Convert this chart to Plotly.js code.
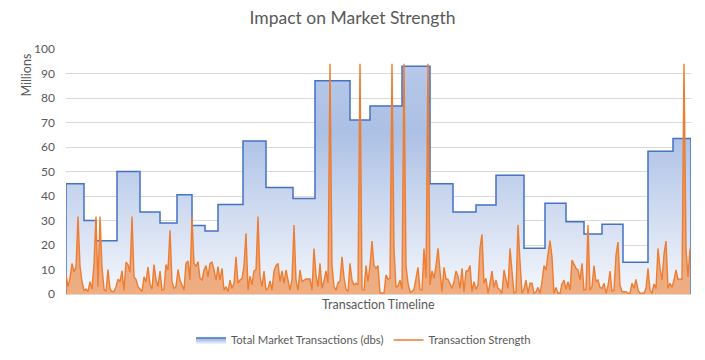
<!DOCTYPE html>
<html>
<head>
<meta charset="utf-8">
<script src="https://cdn.plot.ly/plotly-3.0.1.min.js"></script>
<style>
  html, body { margin: 0; padding: 0; background: #fff; }
  #chart { width: 705px; height: 360px; outline: 1px solid #d9d9d9; outline-offset: -1px; }
</style>
</head>
<body>
<div id="chart"></div>
<script>
// Step boundaries on the transaction timeline (segment starts, then final end)
const segmentStarts = [0, 18, 30, 51, 74, 94, 111, 126, 139, 152, 177, 200, 227, 249, 284, 304, 336, 364, 387, 410, 430, 458, 479, 500, 518, 536, 557, 582, 607];
const timelineEnd = 625;
// Total Market Transactions (millions) per segment
const totalTransactions = [45, 30, 21.7, 50, 33.5, 29, 40.5, 28, 25.7, 36.5, 62.5, 43.5, 39, 87, 71, 76.7, 93, 45, 33.5, 36.3, 48.5, 18.7, 37, 29.5, 24.5, 28.5, 13, 58.3, 63.5];
// Transaction Strength samples (every 2 timeline units)
const strengthStep = 2;
const transactionStrength = [
  8, 3, 6.5, 12.5, 9, 11, 31.6, 11.5, 5, 1.5, 2, 1, 5, 2, 12.5, 31.6, 3, 31.6, 11, 2,
  1, 10, 2, 1, 1, 3, 6, 5, 9.5, 1.5, 13, 12, 9, 31.6, 7, 6, 3, 2, 1, 7,
  5, 11, 4, 2, 12, 6, 3, 9.4, 1.6, 2, 12, 9.8, 26, 5, 2.3, 3, 10, 5.7, 3.7, 1.6,
  12.5, 13.5, 5.7, 31.3, 12.5, 11.2, 13.2, 6.4, 5.7, 9.8, 11.6, 7, 12.5, 13, 9.8, 5.7, 11.2, 5.7, 10.5, 1.6,
  3, 0.9, 5.7, 2.3, 4.4, 15.2, 4.4, 5.7, 6.3, 11.6, 24.8, 1.6, 7.3, 3.7, 9.4, 9.8, 31.6, 7, 3, 9.4,
  1.6, 2.3, 5.3, 1.6, 9.4, 11.6, 12.5, 5, 9.4, 4.4, 9.8, 5, 1.6, 6.1, 28.2, 5.7, 1.6, 9.8, 5, 5.7,
  6.1, 6.1, 6.1, 1.6, 18.6, 7.8, 3, 12.5, 2.3, 5.3, 9.4, 4.4, 94, 11.6, 3, 1.6, 4.6, 5.3, 15.2, 6.8,
  2, 1, 12.5, 5.7, 3.7, 4.4, 3.7, 94, 1.9, 1.6, 11.6, 5, 11.6, 21.6, 11.6, 10.5, 11.6, 0.5, 0.5, 0.3,
  7.8, 6, 6.4, 94, 18.6, 2.7, 3.3, 5.7, 1.9, 94, 11.6, 4.4, 0.9, 0.9, 1.9, 5.7, 10.9, 1.9, 1.6, 18.6,
  6.4, 94, 3.7, 9.4, 6.4, 11.6, 18.6, 9.4, 0.9, 10.9, 6.1, 6, 3.7, 2.3, 5, 9.4, 7.3, 2.3, 10.5, 0.9,
  9.4, 9.4, 11.6, 1, 5, 1.9, 3.7, 18.6, 24.3, 4.4, 6.4, 0.3, 4.4, 9.4, 2.7, 5.7, 2.3, 1.6, 0.3, 9.8,
  6, 2.3, 18.6, 9.4, 0.3, 1, 28.2, 13.5, 0.3, 2, 5.7, 0.3, 4.4, 4.4, 0.3, 0.9, 2.7, 0.3, 5, 11.6,
  9.8, 16.3, 21.8, 15.2, 0.3, 2.7, 0.3, 0.3, 4.1, 5.7, 1.9, 5, 1.6, 13.9, 12.5, 10.5, 9.8, 5.7, 12.5, 1.6,
  1.9, 28.2, 1.6, 3, 11.6, 5, 5.7, 2.7, 2.3, 4.4, 0.3, 3.3, 9.4, 1, 1.6, 16, 21.2, 3.7, 1, 0.9,
  0.9, 0.3, 0.3, 4.4, 2.3, 6, 1.6, 0.3, 0.3, 0.3, 2.3, 10.5, 1.6, 0.3, 4.1, 2.3, 18.6, 10.5, 5.7, 16.3,
  21.6, 2.3, 4.4, 2.7, 5.7, 9.8, 6.1, 6.1, 6, 94, 18.6, 7, 18.6
];
const seriesNames = ['Total Market Transactions (dbs)', 'Transaction Strength'];
const chartTitle = 'Impact on Market Strength';
const xTitle = 'Transaction Timeline';
const yUnitLabel = 'Millions';

// Build step-area arrays
const stepX = [segmentStarts[0]].concat(segmentStarts, [timelineEnd, timelineEnd]);
const stepY = [0].concat(totalTransactions, [totalTransactions[totalTransactions.length - 1], 0]);
const strengthX = transactionStrength.map((_, i) => i * strengthStep);

const FONT = 'Lato, "Open Sans", "DejaVu Sans", sans-serif';
const TXT = '#595959';

const traces = [
  {
    x: stepX, y: stepY, type: 'scatter', mode: 'lines',
    name: seriesNames[0],
    line: { shape: 'hv', color: '#4472c4', width: 1.5 },
    fill: 'tozeroy',
    fillgradient: {
      type: 'vertical', start: 0, stop: 95,
      colorscale: [[0, 'rgb(244,247,252)'], [0.7, 'rgb(172,192,229)'], [1, 'rgb(184,201,233)']]
    },
    hoverinfo: 'skip'
  },
  {
    x: strengthX, y: transactionStrength, type: 'scatter', mode: 'lines',
    showlegend: false, fill: 'tozeroy', fillcolor: 'rgba(237,125,49,0.6)',
    line: { color: 'rgba(237,125,49,0)', width: 0 }, hoverinfo: 'skip'
  },
  {
    x: strengthX, y: transactionStrength, type: 'scatter', mode: 'lines',
    name: seriesNames[1],
    line: { color: '#ed7d31', width: 1.4 }
  }
];

const layout = {
  width: 705, height: 360,
  margin: { l: 66, r: 14, t: 49, b: 66, autoexpand: false },
  paper_bgcolor: '#ffffff', plot_bgcolor: '#ffffff',
  font: { family: FONT, color: TXT, size: 12 },
  title: { text: chartTitle, font: { family: FONT, size: 17.5, color: TXT }, x: 0.5, xanchor: 'center', y: 0.95, yanchor: 'middle', automargin: false },
  xaxis: {
    range: [0, timelineEnd], showticklabels: false, showgrid: false, zeroline: false,
    showline: false, ticks: '', fixedrange: true
  },
  yaxis: {
    range: [0, 100], dtick: 10, tick0: 0, showgrid: true, gridcolor: '#d9d9d9', gridwidth: 1,
    zeroline: true, zerolinecolor: '#d9d9d9', zerolinewidth: 1,
    showline: false, ticks: '', ticklabelstandoff: 10,
    tickfont: { family: FONT, size: 12, color: TXT }, fixedrange: true
  },
  legend: {
    orientation: 'h', x: 0.476, xanchor: 'center', y: -0.188, yanchor: 'middle',
    font: { family: FONT, size: 11.3, color: TXT }, itemwidth: 30, tracegroupgap: 0
  },
  annotations: [
    { text: xTitle, xref: 'paper', yref: 'paper', x: 0.5, y: -0.041, xanchor: 'center', yanchor: 'middle',
      showarrow: false, font: { family: FONT, size: 12.5, color: TXT } },
    { text: yUnitLabel, xref: 'paper', yref: 'paper', x: -0.063, y: 0.894, xanchor: 'center', yanchor: 'middle',
      textangle: -90, showarrow: false, font: { family: FONT, size: 12.5, color: TXT } }
  ],
  showlegend: true
};

Plotly.newPlot('chart', traces, layout, { displayModeBar: false, staticPlot: true });
</script>
</body>
</html>
